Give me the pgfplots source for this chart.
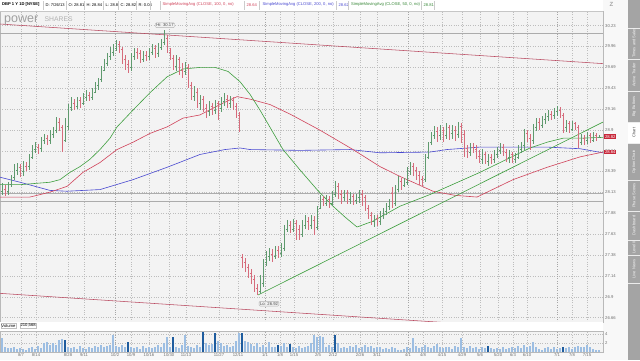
\documentclass[border=0pt]{standalone}
\usepackage{pgfplots}
\pgfplotsset{compat=1.18}
\usepackage{pgfplotstable}
\usepackage{fontspec}
\setmainfont{Liberation Sans}
\definecolor{plotbg}{HTML}{F3F3F3}
\definecolor{pagebg}{HTML}{F8F8F8}
\definecolor{gridc}{HTML}{BDBDBD}
\definecolor{upc}{HTML}{5F9A6E}
\definecolor{dnc}{HTML}{D66C7C}
\definecolor{smag}{HTML}{3E9E3E}
\definecolor{smar}{HTML}{D0435A}
\definecolor{smab}{HTML}{4848D0}
\definecolor{chan}{HTML}{B94A60}
\definecolor{volL}{HTML}{9DBEE2}
\definecolor{volD}{HTML}{1E5C9E}
\definecolor{tagred}{HTML}{C8283A}
\definecolor{side}{HTML}{A4A4A4}
\definecolor{txtg}{HTML}{707070}
\newcommand\lbl{\fontsize{4.2}{5}\selectfont}
\newcommand\hdr{\fontsize{4.1}{5}\selectfont}
\pgfdeclareplotmark{otick}{\pgfpathmoveto{\pgfqpoint{-1.1pt}{0pt}}\pgfpathlineto{\pgfqpoint{0pt}{0pt}}\pgfusepathqstroke}
\pgfdeclareplotmark{ctick}{\pgfpathmoveto{\pgfqpoint{0pt}{0pt}}\pgfpathlineto{\pgfqpoint{1.1pt}{0pt}}\pgfusepathqstroke}

\pgfplotstableread{
x o h l c
2 28.15 28.25 28.10 28.20
8 28.15 28.26 28.11 28.22
11 28.23 28.35 28.20 28.32
14 28.32 28.48 28.29 28.41
17 28.40 28.50 28.35 28.45
23 28.39 28.52 28.34 28.48
29 28.45 28.60 28.41 28.56
32 28.57 28.72 28.54 28.66
35 28.66 28.75 28.62 28.71
41 28.67 28.82 28.63 28.77
44 28.77 28.85 28.73 28.80
50 28.77 28.90 28.73 28.85
53 28.85 28.94 28.80 28.90
56 28.90 29.07 28.86 29.00
65 28.78 29.05 28.75 28.95
68 28.95 29.23 28.90 29.18
71 29.19 29.31 29.14 29.24
77 29.20 29.32 29.17 29.27
83 29.24 29.36 29.22 29.31
86 29.31 29.41 29.27 29.34
92 29.31 29.43 29.28 29.38
95 29.38 29.51 29.36 29.46
98 29.46 29.55 29.41 29.51
101 29.54 29.71 29.50 29.66
104 29.66 29.80 29.64 29.74
107 29.75 29.87 29.71 29.81
110 29.83 29.95 29.79 29.89
113 29.89 29.99 29.84 29.94
116 29.94 30.04 29.90 30.00
131 29.69 29.87 29.65 29.81
134 29.83 29.94 29.79 29.89
143 29.80 29.90 29.76 29.85
149 29.83 29.94 29.79 29.89
152 29.89 29.99 29.85 29.94
158 29.87 30.00 29.83 29.95
161 29.95 30.06 29.92 30.00
164 30.02 30.17 29.98 30.09
176 29.70 29.85 29.64 29.79
185 29.64 29.76 29.59 29.71
194 29.33 29.46 29.27 29.41
200 29.23 29.34 29.15 29.31
209 29.13 29.27 29.08 29.20
215 29.15 29.28 29.10 29.23
221 29.17 29.31 29.13 29.26
224 29.26 29.36 29.20 29.31
230 29.23 29.33 29.18 29.28
260 26.96 27.15 26.93 27.10
263 27.06 27.34 27.01 27.29
266 27.30 27.43 27.26 27.37
269 27.37 27.47 27.32 27.41
275 27.37 27.50 27.34 27.44
281 27.41 27.53 27.36 27.47
284 27.47 27.74 27.43 27.69
287 27.69 27.80 27.66 27.74
293 27.69 27.82 27.66 27.76
302 27.63 27.80 27.60 27.74
305 27.74 27.86 27.70 27.79
311 27.74 27.87 27.69 27.81
317 27.72 27.97 27.68 27.91
320 27.95 28.11 27.93 28.05
326 28.00 28.10 27.97 28.05
332 28.00 28.15 27.97 28.10
335 28.11 28.27 28.08 28.22
344 28.08 28.17 28.03 28.12
350 28.05 28.14 28.00 28.09
356 28.04 28.12 28.00 28.08
359 28.08 28.16 28.01 28.11
374 27.79 27.87 27.72 27.82
380 27.79 27.91 27.75 27.86
383 27.86 27.95 27.81 27.91
386 27.91 28.01 27.86 27.97
389 27.97 28.05 27.92 28.00
395 28.00 28.22 27.97 28.17
398 28.17 28.33 28.14 28.27
404 28.22 28.31 28.20 28.26
407 28.26 28.44 28.23 28.39
410 28.39 28.51 28.35 28.46
425 28.29 28.60 28.26 28.56
428 28.57 28.75 28.54 28.72
431 28.75 28.88 28.72 28.83
434 28.83 28.95 28.79 28.89
440 28.84 28.96 28.78 28.90
446 28.83 28.99 28.79 28.93
452 28.86 28.96 28.79 28.90
458 28.85 29.00 28.80 28.95
470 28.63 28.74 28.58 28.69
482 28.54 28.67 28.48 28.60
488 28.51 28.61 28.46 28.56
494 28.54 28.65 28.50 28.60
497 28.60 28.69 28.56 28.65
500 28.65 28.74 28.60 28.69
509 28.56 28.65 28.50 28.60
515 28.54 28.62 28.49 28.57
518 28.57 28.71 28.54 28.66
521 28.66 28.75 28.62 28.71
524 28.71 28.91 28.66 28.86
533 28.78 28.98 28.73 28.93
536 28.93 29.05 28.89 29.00
542 28.96 29.08 28.93 29.03
545 29.03 29.12 28.98 29.07
548 29.07 29.15 29.01 29.10
554 29.08 29.18 29.04 29.14
557 29.14 29.20 29.08 29.15
566 28.93 29.03 28.88 28.98
572 28.91 29.01 28.89 28.98
581 28.75 28.85 28.72 28.80
587 28.77 28.88 28.73 28.83
593 28.78 28.88 28.75 28.84
599 28.81 28.84 28.80 28.82
}\uptab

\pgfplotstableread{
x o h l c
5 28.18 28.22 28.09 28.14
20 28.44 28.48 28.32 28.38
26 28.46 28.51 28.39 28.44
38 28.69 28.73 28.61 28.66
47 28.80 28.84 28.71 28.75
59 29.00 29.05 28.89 28.93
62 28.93 28.96 28.63 28.68
74 29.24 29.29 29.15 29.20
80 29.27 29.32 29.18 29.24
89 29.34 29.38 29.26 29.29
119 29.99 30.03 29.87 29.92
122 29.92 29.95 29.74 29.79
125 29.80 29.85 29.66 29.71
128 29.73 29.79 29.62 29.66
137 29.89 29.94 29.80 29.85
140 29.87 29.92 29.75 29.79
146 29.85 29.90 29.78 29.81
155 29.93 29.98 29.81 29.85
167 30.07 30.11 29.88 29.92
170 29.89 29.94 29.79 29.81
173 29.81 29.85 29.66 29.71
179 29.79 29.83 29.60 29.66
182 29.66 29.75 29.56 29.61
188 29.69 29.74 29.43 29.48
191 29.46 29.50 29.28 29.33
197 29.38 29.43 29.18 29.23
203 29.29 29.33 29.13 29.18
206 29.18 29.23 29.05 29.12
212 29.20 29.24 29.09 29.14
218 29.23 29.27 29.03 29.17
227 29.29 29.34 29.18 29.23
233 29.28 29.32 29.15 29.20
236 29.20 29.24 29.05 29.09
239 29.09 29.13 28.88 28.93
242 27.36 27.40 27.24 27.29
245 27.30 27.35 27.19 27.24
248 27.24 27.28 27.12 27.17
251 27.17 27.22 27.05 27.11
254 27.10 27.15 26.96 27.00
257 27.00 27.05 26.92 26.95
272 27.40 27.46 27.31 27.36
278 27.44 27.49 27.35 27.40
290 27.74 27.79 27.65 27.68
296 27.76 27.80 27.56 27.69
299 27.69 27.74 27.56 27.62
308 27.79 27.84 27.68 27.73
314 27.80 27.85 27.62 27.67
323 28.05 28.09 27.97 28.00
329 28.05 28.09 27.95 27.99
338 28.21 28.25 28.06 28.11
341 28.11 28.16 28.00 28.06
347 28.12 28.16 28.00 28.05
353 28.09 28.12 27.99 28.03
362 28.11 28.17 27.97 28.09
365 28.08 28.11 27.91 27.95
368 27.95 27.99 27.81 27.86
371 27.86 27.90 27.74 27.79
377 27.82 27.87 27.73 27.78
392 28.12 28.20 27.95 27.99
401 28.27 28.31 28.17 28.22
413 28.45 28.49 28.34 28.39
416 28.40 28.45 28.29 28.35
419 28.35 28.40 28.23 28.29
422 28.29 28.34 28.20 28.25
437 28.89 28.94 28.75 28.84
443 28.90 28.94 28.75 28.83
449 28.93 28.96 28.78 28.85
455 28.90 28.95 28.77 28.84
461 28.95 28.99 28.74 28.86
464 28.85 28.90 28.57 28.68
467 28.68 28.72 28.56 28.63
473 28.69 28.74 28.62 28.66
476 28.66 28.71 28.54 28.58
479 28.58 28.65 28.49 28.54
485 28.60 28.63 28.48 28.51
491 28.56 28.61 28.48 28.54
503 28.69 28.73 28.58 28.63
506 28.63 28.67 28.51 28.56
512 28.60 28.63 28.50 28.54
527 28.86 28.90 28.75 28.80
530 28.80 28.85 28.66 28.75
539 29.00 29.05 28.90 28.95
551 29.10 29.14 29.03 29.08
560 29.15 29.19 29.05 29.09
563 29.08 29.12 28.86 28.93
569 28.98 29.01 28.86 28.91
575 28.98 29.00 28.90 28.94
578 28.93 28.96 28.68 28.74
584 28.80 28.84 28.71 28.75
590 28.83 28.86 28.74 28.78
596 28.84 28.86 28.77 28.80
}\dntab

\pgfplotstableread{
x v
2 3.0
5 1.2
8 0.9
11 0.8
14 1.0
17 0.6
20 0.9
23 0.7
26 0.5
29 0.8
32 1.1
35 0.7
38 1.3
41 0.9
44 2.0
47 2.2
50 1.6
53 2.1
56 1.5
59 2.6
62 2.9
68 1.0
71 0.8
74 1.2
77 0.6
80 1.4
83 0.9
86 0.7
89 1.1
92 0.8
95 1.3
98 1.0
101 1.5
104 1.2
107 1.4
110 1.6
113 3.8
116 1.4
119 1.0
122 1.6
125 1.2
131 1.0
134 0.8
137 1.1
140 0.7
143 1.3
146 0.9
149 1.2
152 0.8
155 1.0
158 1.5
161 1.2
164 2.0
167 3.3
170 1.0
176 1.1
179 0.9
182 1.5
185 3.8
188 1.3
191 1.0
194 0.8
197 1.6
200 1.2
206 2.0
209 1.5
212 1.8
218 2.4
221 2.1
224 1.3
227 1.6
230 1.0
233 1.4
236 2.5
239 4.2
245 2.4
248 2.3
251 1.8
254 1.4
257 2.0
260 1.2
263 1.6
266 1.0
269 2.2
272 1.2
275 1.0
281 1.4
284 1.9
287 1.0
293 1.1
296 0.8
299 1.3
302 0.9
305 1.1
308 1.4
311 2.0
314 3.7
317 3.4
320 3.6
323 3.4
326 1.0
329 1.5
332 1.2
338 2.0
341 0.9
344 1.2
347 0.8
350 1.3
353 1.0
356 1.5
359 0.9
362 1.2
365 1.5
368 1.0
371 1.3
374 0.8
377 1.1
380 1.0
383 0.7
386 0.9
389 0.6
392 1.0
395 0.8
398 0.5
401 0.4
404 0.6
407 1.2
410 0.9
413 3.0
416 1.4
419 0.8
422 1.0
425 1.6
428 1.2
431 0.9
434 1.3
437 1.7
440 1.0
443 0.8
446 1.2
449 1.0
452 0.7
455 1.4
458 1.1
461 3.0
464 1.2
467 0.9
470 1.3
473 0.8
476 1.0
479 0.7
482 1.1
485 0.9
491 0.8
494 0.6
497 0.9
500 0.7
503 1.0
506 0.6
509 0.8
512 1.1
515 0.9
518 1.3
521 0.8
524 1.6
527 1.1
530 1.4
533 2.2
536 1.0
539 0.7
542 0.5
545 0.8
548 1.2
551 0.6
554 1.0
557 0.7
560 0.8
566 0.9
569 1.1
572 0.6
575 1.0
578 1.4
581 1.2
584 1.0
587 1.6
590 1.2
593 0.7
596 0.5
599 0.4
}\vollight

\pgfplotstableread{
x v
65 2.6
128 2.2
173 3.3
203 4.4
215 4.2
242 4.3
278 1.6
290 1.8
335 3.8
488 1.4
563 1.2
}\voldark

\begin{document}
\begin{tikzpicture}[x=1pt,y=1pt]
\useasboundingbox (0,0) rectangle (640,360);
\fill[pagebg] (0,0) rectangle (640,360);
% header strip
\fill[white] (0,349) rectangle (603,360);

\begin{axis}[at={(0pt,38pt)}, anchor=south west, width=603pt, height=311pt, scale only axis,
  xmin=0, xmax=603, ymode=log, ymin=26.611, ymax=30.422,
  axis background/.style={fill=plotbg},
  axis line style={draw=gray!55, line width=0.4pt},
  xtick={21,36,68,84,115,131,149,169,186,219,238,265,280,294,318,333,360,377,408,423,442,462,480,498,513,527,557,572,587},
  xticklabels={},
  ytick={26.66,26.900,27.143,27.388,27.635,27.884,28.135,28.389,28.645,28.903,29.164,29.427,29.692,29.960,30.23},
  yticklabels={26.66,26.9,27.14,27.38,27.63,27.88,28.13,28.39,28.64,28.9,29.16,29.43,29.69,29.96,30.23},
  yticklabel pos=right, minor ytick={},
  major tick length=0pt,
  y tick label style={font=\lbl, text=txtg, inner sep=1pt, xshift=1pt},
  grid=major, major grid style={gridc, dotted, line width=0.4pt},
  extra x ticks={115,265,408,557}, extra x tick labels={},
  extra x tick style={major grid style={gray!70, dotted, line width=0.5pt}},
  clip=true]
% horizontal levels
\addplot[gray!65, line width=0.55pt] coordinates {(0,30.13) (603,30.13)};
\addplot[gray!65, line width=0.55pt] coordinates {(0,28.12) (603,28.12)};
\addplot[gray!65, line width=0.55pt] coordinates {(0,28.03) (603,28.03)};
% channel lines
\addplot[chan, line width=0.55pt] coordinates {(0,30.25) (603,29.74)};
\addplot[chan, line width=0.55pt] coordinates {(0,26.94) (603,26.485)};
% moving averages
\addplot[smab, line width=0.6pt] coordinates {(0,28.32)(20,28.26)(50,28.16)(67,28.15)(100,28.17)(133,28.29)(167,28.44)(200,28.60)(225,28.66)(240,28.68)(250,28.66)(300,28.65)(350,28.66)(380,28.62)(430,28.63)(447,28.66)(480,28.69)(513,28.69)(547,28.69)(580,28.67)(603,28.62)};
\addplot[smar, line width=0.6pt] coordinates {(0,28.08)(30,28.08)(50,28.14)(67,28.21)(83,28.38)(100,28.50)(117,28.66)(133,28.75)(150,28.86)(167,28.94)(183,29.05)(200,29.09)(220,29.22)(237,29.32)(250,29.29)(270,29.22)(290,29.10)(320,28.90)(353,28.66)(380,28.45)(400,28.33)(413,28.26)(433,28.15)(455,28.10)(477,28.08)(513,28.29)(547,28.44)(580,28.57)(603,28.63)};
\addplot[smag, line width=0.6pt] coordinates {(0,28.23)(20,28.23)(50,28.26)(60,28.29)(70,28.38)(80,28.45)(90,28.54)(100,28.66)(110,28.80)(117,28.94)(133,29.15)(150,29.37)(167,29.57)(183,29.67)(200,29.69)(215,29.69)(228,29.64)(240,29.51)(250,29.35)(260,29.15)(283,28.66)(300,28.41)(317,28.17)(333,27.97)(345,27.84)(357,27.72)(373,27.79)(400,27.97)(430,28.11)(480,28.38)(530,28.68)(547,28.75)(563,28.80)(580,28.80)(603,28.81)};
% trend line from the low
\addplot[smag, line width=0.6pt] coordinates {(258,26.92) (603,29.00)};
% OHLC bars
\addplot[upc, only marks, mark=otick, mark options={line width=0.55pt},
  error bars/.cd, y dir=both, y explicit, error mark=none,
  error bar style={upc, line width=0.55pt}]
  table[x=x, y=o, y error plus expr=\thisrow{h}-\thisrow{o}, y error minus expr=\thisrow{o}-\thisrow{l}] {\uptab};
\addplot[upc, only marks, mark=ctick, mark options={line width=0.55pt}] table[x=x, y=c] {\uptab};
\addplot[dnc, only marks, mark=otick, mark options={line width=0.55pt},
  error bars/.cd, y dir=both, y explicit, error mark=none,
  error bar style={dnc, line width=0.55pt}]
  table[x=x, y=o, y error plus expr=\thisrow{h}-\thisrow{o}, y error minus expr=\thisrow{o}-\thisrow{l}] {\dntab};
\addplot[dnc, only marks, mark=ctick, mark options={line width=0.55pt}] table[x=x, y=c] {\dntab};
% Hi / Lo bubbles
\node[draw=gray!60, fill=gray!12, rounded corners=1pt, inner sep=0.9pt, font=\lbl, text=black!70] at (axis cs:165,30.235) {Hi: 30.17};
\node[draw=gray!60, fill=gray!12, rounded corners=1pt, inner sep=0.9pt, font=\lbl, text=black!70] at (axis cs:269,26.82) {Lo: 26.92};
\end{axis}

% volume panel header
\fill[white] (0,29) rectangle (603,38);
\draw[gray!45, line width=0.3pt] (0,29) -- (603,29);
\node[draw=gray!50, fill=white, inner sep=0.8pt, anchor=west, font=\lbl] at (0.5,34.5) {Volume};
\node[draw=gray!50, fill=white, inner sep=0.8pt, anchor=west, font=\lbl] at (19.5,34.5) {210,568};

\begin{axis}[at={(0pt,8pt)}, anchor=south west, width=603pt, height=21pt, scale only axis,
  xmin=0, xmax=603, ymin=0, ymax=4.66,
  axis background/.style={fill=plotbg},
  axis line style={draw=gray!55, line width=0.4pt},
  xtick={21,36,68,84,115,131,149,169,186,219,238,265,280,294,318,333,360,377,408,423,442,462,480,498,513,527,557,572,587},
  xticklabels={8/7,8/14,8/28,9/11,10/2,10/9,10/16,10/30,11/13,11/27,12/11,1/1,1/8,1/15,2/5,2/12,2/26,3/11,4/1,4/8,4/15,4/29,5/6,5/20,6/3,6/10,7/1,7/8,7/15},
  ytick={2,4}, yticklabels={2,4}, yticklabel pos=right,
  major tick length=0pt,
  x tick label style={font=\lbl, text=txtg, inner sep=0.8pt},
  y tick label style={font=\lbl, text=txtg, inner sep=1pt, xshift=1pt},
  grid=major, major grid style={gridc, dotted, line width=0.4pt},
  extra x ticks={115,265,408,557}, extra x tick labels={},
  extra x tick style={major grid style={gray!70, dotted, line width=0.5pt}},
  clip=true]
\addplot[ycomb, volL, line width=1.7pt] table[x=x, y=v] {\vollight};
\addplot[ycomb, volD, line width=1.7pt] table[x=x, y=v] {\voldark};
\end{axis}

% header texts
\begin{scope}[every node/.style={anchor=west, inner sep=0.5pt, font=\hdr}]
\node[font=\hdr\bfseries] at (1.5,355.2) {DBP 1 Y 1D [NYSE]};
\node at (45,355.2) {D: 7/26/13};
\node at (68,355.2) {O: 28.81};
\node at (86,355.2) {H: 28.84};
\node at (105,355.2) {L: 28.8};
\node at (120,355.2) {C: 28.82};
\node at (138,355.2) {R: 0.04};
\node[text=smar] at (162,355.2) {SimpleMovingAvg (CLOSE, 100, 0, no)};
\node[text=smar] at (246,355.2) {28.64};
\node[text=smab] at (262,355.2) {SimpleMovingAvg (CLOSE, 200, 0, no)};
\node[text=smab] at (338,355.2) {28.62};
\node[text=smag!85!black] at (350.5,355.2) {SimpleMovingAvg (CLOSE, 50, 0, no)};
\node[text=smag!85!black] at (423,355.2) {28.81};
\end{scope}
\foreach \s in {43.5,66,84.5,103.5,118.5,136.5,150,160,244.5,259.5,336.5,348.5,421.5,434.5}
  \draw[gray!40, line width=0.3pt] (\s,350.5) -- (\s,359.5);
\draw[gray!45, line width=0.3pt] (0,349) -- (603,349);

% logo
\node[anchor=base west, inner sep=0pt, text=gray!75, font=\fontsize{12.5}{13}\selectfont] at (4,338) {power};
\node[anchor=base west, inner sep=0pt, text=gray!60, font=\fontsize{6.8}{7}\selectfont] at (44.5,338.5) {SHARES};

% corner glyph
\node[text=gray!70, font=\fontsize{6}{6}\selectfont\bfseries, inner sep=0pt] at (611.5,356) {Z};

% current price tags
\node[fill=tagred, text=white, font=\lbl, inner sep=0.8pt, anchor=west] at (604,223.3) {28.82};
\node[fill=tagred, text=white, font=\lbl, inner sep=0.8pt, anchor=west] at (604,208) {28.64};

% sidebar
\fill[side] (628,0) rectangle (640,360);
\fill[white] (628,217) rectangle (640,238);
\foreach \t in {332,301,269,238,217,180,149,120,105,77}
  \draw[white!85!gray, line width=0.4pt] (628,\t) -- (640,\t);
\begin{scope}[every node/.style={rotate=90, inner sep=0pt, font=\fontsize{4}{4.5}\selectfont, text=white!92!gray}]
\node at (634,317) {Times and Sales};
\node at (634,285) {Active Trader};
\node at (634,253.5) {Big Buttons};
\node[text=black!75] at (634,227.5) {Chart};
\node at (634,198.5) {Option Chain};
\node at (634,164.5) {Phase Scores};
\node at (634,134.5) {Dashboard};
\node at (634,112.5) {Level II};
\node at (634,91) {Live News};
\end{scope}
\end{tikzpicture}
\end{document}
